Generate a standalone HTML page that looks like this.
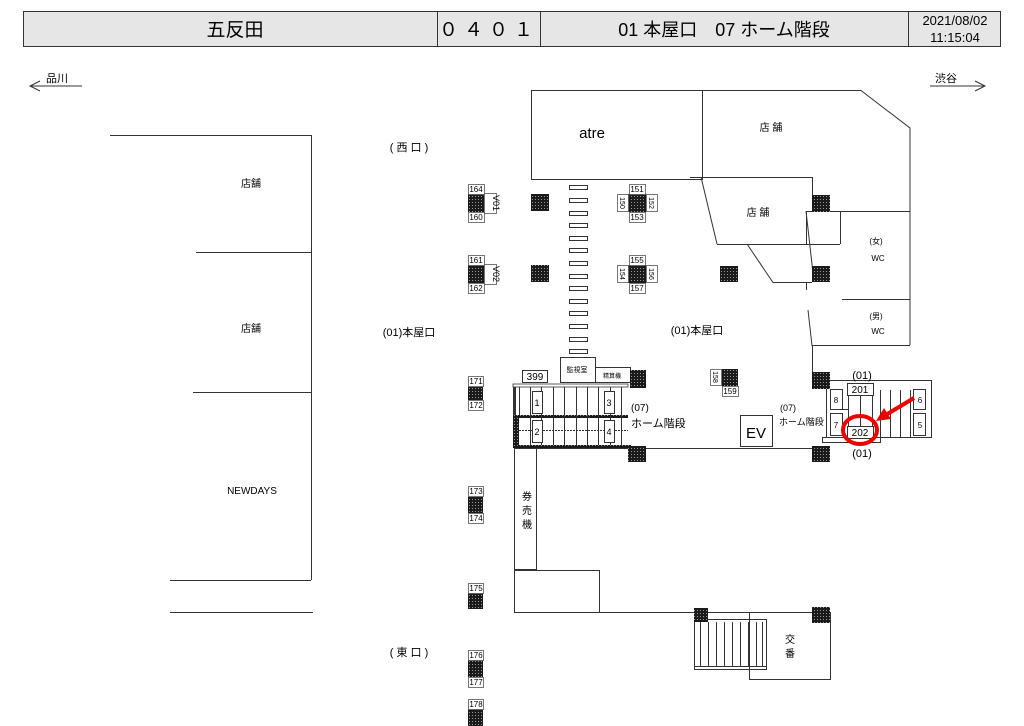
<!DOCTYPE html>
<html><head><meta charset="utf-8"><style>
html,body{margin:0;padding:0;background:#fff;}
svg{display:block;}
text{font-family:"Liberation Sans","Noto Sans CJK JP",sans-serif;fill:#000;}
</style></head><body>
<svg width="1024" height="726" viewBox="0 0 1024 726" xmlns="http://www.w3.org/2000/svg">
<defs>
<pattern id="d" width="3" height="3" patternUnits="userSpaceOnUse"><rect width="3" height="3" fill="#1a1a1a"/><rect x="1" y="1" width="1" height="1" fill="#999"/></pattern>
</defs>
<!-- header -->
<rect x="23.5" y="11.5" width="977" height="35" fill="#e6e6e6" stroke="#333"/>
<line x1="437.5" y1="11" x2="437.5" y2="47" stroke="#333"/>
<line x1="540.5" y1="11" x2="540.5" y2="47" stroke="#333"/>
<line x1="908.5" y1="11" x2="908.5" y2="47" stroke="#333"/>
<text x="235" y="36" font-size="19" text-anchor="middle">五反田</text>
<text x="489" y="36" font-size="19" text-anchor="middle" letter-spacing="6">０４０１</text>
<text x="724" y="36" font-size="18" text-anchor="middle">01 本屋口　07 ホーム階段</text>
<text x="955" y="25" font-size="13" text-anchor="middle">2021/08/02</text>
<text x="955" y="42" font-size="13" text-anchor="middle">11:15:04</text>
<!-- direction -->
<text x="46" y="82" font-size="11">品川</text>
<line x1="30" y1="86" x2="82" y2="86" stroke="#333"/>
<polyline points="40,81 30,86 40,91" fill="none" stroke="#333"/>
<text x="935" y="82" font-size="11">渋谷</text>
<line x1="930" y1="86" x2="984" y2="86" stroke="#333"/>
<polyline points="975,81 985,86 975,91" fill="none" stroke="#333"/>
<!-- left shops -->
<g stroke="#333" fill="none">
<line x1="110" y1="135.5" x2="311" y2="135.5"/>
<line x1="311.5" y1="135" x2="311.5" y2="580"/>
<line x1="196" y1="252.5" x2="311" y2="252.5"/>
<line x1="193" y1="392.5" x2="311" y2="392.5"/>
<line x1="170" y1="580.5" x2="311" y2="580.5"/>
<line x1="170" y1="612.5" x2="313" y2="612.5"/>
</g>
<text x="251" y="187" font-size="10" text-anchor="middle">店舗</text>
<text x="251" y="332" font-size="10" text-anchor="middle">店舗</text>
<text x="252" y="494" font-size="10" text-anchor="middle">NEWDAYS</text>
<text x="409" y="151" font-size="11" text-anchor="middle">( 西 口 )</text>
<text x="409" y="336" font-size="11" text-anchor="middle">(01)本屋口</text>
<text x="409" y="656" font-size="11" text-anchor="middle">( 東 口 )</text>
<!-- right structures -->
<g stroke="#333" fill="none">
<rect x="531.5" y="90.5" width="171" height="89"/>
<polyline points="702,90.5 861,90.5 910,128 910,345"/>
<line x1="702.5" y1="90" x2="702.5" y2="177"/>
<polyline points="690,177.5 812.5,177.5 812.5,211"/>
<line x1="701" y1="177" x2="717" y2="244"/>
<line x1="717" y1="244.5" x2="840" y2="244.5"/>
<polyline points="806.5,244 806.5,211.5 840.5,211.5 840.5,244"/>
<line x1="840" y1="211.5" x2="910" y2="211.5"/>
<polyline points="747,244 773,282.5 812,282.5"/>
<line x1="806" y1="211" x2="814" y2="282"/>
<line x1="806.5" y1="282" x2="806.5" y2="290"/>
<polyline points="808,310 812,345.5 910,345.5"/>
<line x1="842" y1="299.5" x2="910" y2="299.5"/>
<line x1="812.5" y1="345" x2="812.5" y2="372"/>
<!-- main line -->
<line x1="514" y1="448.5" x2="830" y2="448.5"/>
<rect x="514.5" y="448.5" width="22" height="121"/>
<rect x="514.5" y="570.5" width="85" height="42"/>
<line x1="599" y1="612.5" x2="830" y2="612.5"/>
<rect x="749.5" y="612.5" width="81" height="67"/>
<!-- koban stairs -->
<rect x="694.5" y="619.5" width="72" height="50"/>
<line x1="694" y1="666.5" x2="766" y2="666.5"/>
<rect x="740.5" y="415.5" width="32" height="31"/>
</g>
<g stroke="#333">
<line x1="700.5" y1="622" x2="700.5" y2="666"/><line x1="708.5" y1="622" x2="708.5" y2="666"/><line x1="716.5" y1="622" x2="716.5" y2="666"/><line x1="724.5" y1="622" x2="724.5" y2="666"/><line x1="732.5" y1="622" x2="732.5" y2="666"/><line x1="740.5" y1="622" x2="740.5" y2="666"/><line x1="748.5" y1="622" x2="748.5" y2="666"/><line x1="756.5" y1="622" x2="756.5" y2="666"/><line x1="762.5" y1="622" x2="762.5" y2="666"/>
</g>
<text x="592" y="138" font-size="15" text-anchor="middle">atre</text>
<text x="771" y="131" font-size="10" text-anchor="middle">店 舗</text>
<text x="758" y="216" font-size="10" text-anchor="middle">店 舗</text>
<text x="876" y="244" font-size="8" text-anchor="middle">(女)</text>
<text x="878" y="261" font-size="8" text-anchor="middle">WC</text>
<text x="876" y="319" font-size="8" text-anchor="middle">(男)</text>
<text x="878" y="334" font-size="8" text-anchor="middle">WC</text>
<text x="697" y="334" font-size="11" text-anchor="middle">(01)本屋口</text>
<text x="756" y="438" font-size="15" text-anchor="middle">EV</text>
<text x="527" y="500" font-size="10" text-anchor="middle">券</text>
<text x="527" y="514" font-size="10" text-anchor="middle">売</text>
<text x="527" y="528" font-size="10" text-anchor="middle">機</text>
<text x="790" y="643" font-size="10" text-anchor="middle">交</text>
<text x="790" y="657" font-size="10" text-anchor="middle">番</text>
<!-- center dashes -->
<g fill="#fff" stroke="#333">
<rect x="569.5" y="185.5" width="18" height="4"/><rect x="569.5" y="198.5" width="18" height="4"/><rect x="569.5" y="211.5" width="18" height="4"/><rect x="569.5" y="223.5" width="18" height="4"/><rect x="569.5" y="236.5" width="18" height="4"/><rect x="569.5" y="248.5" width="18" height="4"/><rect x="569.5" y="261.5" width="18" height="4"/><rect x="569.5" y="274.5" width="18" height="4"/><rect x="569.5" y="286.5" width="18" height="4"/><rect x="569.5" y="299.5" width="18" height="4"/><rect x="569.5" y="311.5" width="18" height="4"/><rect x="569.5" y="324.5" width="18" height="4"/><rect x="569.5" y="337.5" width="18" height="4"/><rect x="569.5" y="349.5" width="18" height="4"/>
</g>
<!-- left stair block -->
<g stroke="#333" fill="#fff">
<rect x="560.5" y="357.5" width="35" height="25"/>
<rect x="595.5" y="367.5" width="35" height="15"/>
<rect x="522.5" y="370.5" width="25" height="12"/>
</g>
<text x="577" y="372" font-size="7" text-anchor="middle">監視室</text>
<text x="612" y="378" font-size="6" text-anchor="middle">精算機</text>
<text x="535" y="380" font-size="10" text-anchor="middle">399</text>
<rect x="513" y="384" width="3" height="64" fill="#333"/>
<rect x="513" y="384" width="115" height="3" fill="#fff" stroke="#333" stroke-width="0.8"/>
<rect x="516" y="415" width="112" height="3" fill="url(#d)"/>
<rect x="516" y="445" width="115" height="3" fill="url(#d)"/>
<rect x="513" y="415" width="6" height="33" fill="url(#d)"/>
<g stroke="#333">
<line x1="519.5" y1="387" x2="519.5" y2="415"/><line x1="530.5" y1="387" x2="530.5" y2="445"/><line x1="541.5" y1="387" x2="541.5" y2="445"/><line x1="553.5" y1="387" x2="553.5" y2="445"/><line x1="564.5" y1="387" x2="564.5" y2="445"/><line x1="576.5" y1="387" x2="576.5" y2="445"/><line x1="587.5" y1="387" x2="587.5" y2="445"/><line x1="598.5" y1="387" x2="598.5" y2="445"/><line x1="610.5" y1="387" x2="610.5" y2="445"/><line x1="621.5" y1="387" x2="621.5" y2="445"/>
<line x1="519" y1="430.5" x2="628" y2="430.5" stroke-dasharray="2,1"/>
</g>
<g stroke="#333" fill="#fff">
<rect x="532.5" y="391.5" width="10" height="22"/><rect x="532.5" y="420.5" width="10" height="22"/>
<rect x="604.5" y="391.5" width="10" height="22"/><rect x="604.5" y="420.5" width="10" height="22"/>
</g>
<text x="537" y="406" font-size="9" text-anchor="middle">1</text>
<text x="537" y="435" font-size="9" text-anchor="middle">2</text>
<text x="609" y="406" font-size="9" text-anchor="middle">3</text>
<text x="609" y="435" font-size="9" text-anchor="middle">4</text>
<text x="631" y="411" font-size="10">(07)</text>
<text x="631" y="427" font-size="11">ホーム階段</text>
<text x="780" y="411" font-size="9">(07)</text>
<text x="779" y="425" font-size="9">ホーム階段</text>
<!-- right stair block -->
<g stroke="#333" fill="none">
<rect x="826.5" y="380.5" width="105" height="57"/>
<rect x="822.5" y="437.5" width="58" height="5" fill="#fff"/>
<line x1="848.5" y1="390" x2="848.5" y2="437"/><line x1="860.5" y1="390" x2="860.5" y2="437"/><line x1="872.5" y1="390" x2="872.5" y2="437"/><line x1="880.5" y1="390" x2="880.5" y2="437"/><line x1="890.5" y1="390" x2="890.5" y2="437"/><line x1="900.5" y1="390" x2="900.5" y2="437"/><line x1="910.5" y1="390" x2="910.5" y2="437"/>
<line x1="835" y1="409.5" x2="848" y2="409.5"/>
</g>
<g stroke="#333" fill="#fff">
<rect x="830.5" y="389.5" width="12" height="20"/><rect x="830.5" y="413.5" width="12" height="22"/>
<rect x="913.5" y="389.5" width="12" height="20"/><rect x="913.5" y="413.5" width="12" height="22"/>
<rect x="847.5" y="383.5" width="26" height="12"/><rect x="847.5" y="426.5" width="26" height="12"/>
</g>
<text x="836" y="403" font-size="8" text-anchor="middle">8</text>
<text x="836" y="428" font-size="8" text-anchor="middle">7</text>
<text x="920" y="403" font-size="8" text-anchor="middle">6</text>
<text x="920" y="428" font-size="8" text-anchor="middle">5</text>
<text x="860" y="393" font-size="10" text-anchor="middle">201</text>
<text x="860" y="436" font-size="10" text-anchor="middle">202</text>
<text x="862" y="379" font-size="11" text-anchor="middle">(01)</text>
<text x="862" y="457" font-size="11" text-anchor="middle">(01)</text>
<ellipse cx="860" cy="430" rx="17" ry="14" fill="none" stroke="#e00" stroke-width="4"/>
<line x1="914" y1="398" x2="884" y2="416" stroke="#e00" stroke-width="4"/>
<polygon points="876,421 884,408 891,419" fill="#e00"/>
<!-- pillars -->
<g fill="url(#d)">
<rect x="468" y="194" width="16" height="18"/><rect x="468" y="265" width="16" height="18"/>
<rect x="531" y="194" width="18" height="17"/><rect x="531" y="265" width="18" height="17"/>
<rect x="628" y="194" width="18" height="18"/><rect x="628" y="265" width="18" height="18"/>
<rect x="720" y="266" width="18" height="16"/><rect x="812" y="195" width="18" height="17"/><rect x="812" y="266" width="18" height="16"/>
<rect x="630" y="370" width="16" height="18"/><rect x="722" y="369" width="16" height="17"/>
<rect x="812" y="372" width="18" height="17"/><rect x="628" y="446" width="18" height="16"/><rect x="812" y="446" width="18" height="16"/>
<rect x="694" y="608" width="14" height="14"/><rect x="812" y="607" width="18" height="16"/>
<rect x="468" y="387" width="15" height="13"/><rect x="468" y="497" width="15" height="16"/><rect x="468" y="593" width="15" height="16"/><rect x="468" y="660" width="15" height="17"/><rect x="468" y="709" width="15" height="17"/>
</g>
<!-- pillar labels -->
<g stroke="#555" fill="#fff" stroke-width="0.8">
<rect x="468.5" y="184.5" width="16" height="10"/><rect x="468.5" y="212.5" width="16" height="10"/><rect x="484.5" y="193.5" width="12" height="20"/>
<rect x="468.5" y="255.5" width="16" height="10"/><rect x="468.5" y="283.5" width="16" height="10"/><rect x="484.5" y="264.5" width="12" height="20"/>
<rect x="629.5" y="184.5" width="16" height="10"/><rect x="629.5" y="212.5" width="16" height="10"/><rect x="617.5" y="194.5" width="11" height="17"/><rect x="646.5" y="194.5" width="11" height="17"/>
<rect x="629.5" y="255.5" width="16" height="10"/><rect x="629.5" y="283.5" width="16" height="10"/><rect x="617.5" y="265.5" width="11" height="17"/><rect x="646.5" y="265.5" width="11" height="17"/>
<rect x="710.5" y="369.5" width="11" height="16"/><rect x="722.5" y="386.5" width="16" height="10"/>
<rect x="468.5" y="376.5" width="15" height="10"/><rect x="468.5" y="400.5" width="15" height="10"/>
<rect x="468.5" y="486.5" width="15" height="10"/><rect x="468.5" y="513.5" width="15" height="10"/>
<rect x="468.5" y="583.5" width="15" height="10"/>
<rect x="468.5" y="650.5" width="15" height="10"/><rect x="468.5" y="677.5" width="15" height="10"/>
<rect x="468.5" y="699.5" width="15" height="10"/>
</g>
<g font-size="8" text-anchor="middle">
<text x="476" y="192">164</text><text x="476" y="220">160</text>
<text x="476" y="263">161</text><text x="476" y="291">162</text>
<text x="637" y="192">151</text><text x="637" y="220">153</text>
<text x="637" y="263">155</text><text x="637" y="291">157</text>
<text x="730" y="394">159</text>
<text x="476" y="384">171</text><text x="476" y="408">172</text>
<text x="476" y="494">173</text><text x="476" y="521">174</text>
<text x="476" y="591">175</text>
<text x="476" y="658">176</text><text x="476" y="685">177</text>
<text x="476" y="707">178</text>
<text transform="translate(493,203) rotate(90)" font-size="9">V01</text>
<text transform="translate(493,274) rotate(90)" font-size="9">V02</text>
<text transform="translate(620,203) rotate(90)" font-size="7">150</text>
<text transform="translate(649,203) rotate(90)" font-size="7">152</text>
<text transform="translate(620,274) rotate(90)" font-size="7">154</text>
<text transform="translate(649,274) rotate(90)" font-size="7">156</text>
<text transform="translate(713,377) rotate(90)" font-size="7">158</text>
</g>
</svg>
</body></html>
